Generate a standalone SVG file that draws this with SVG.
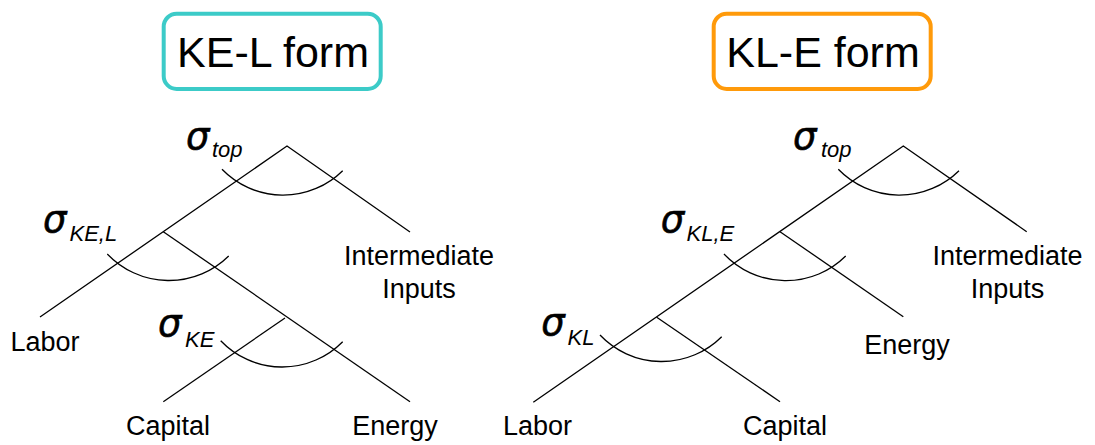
<svg xmlns="http://www.w3.org/2000/svg" width="1095" height="445" viewBox="0 0 1095 445">
  <style>
    .title { font-family: "Liberation Sans", Arial, sans-serif; font-size: 43px; fill: #000; text-anchor: middle; }
    .box { fill: #fff; stroke-width: 4; }
    .lbl { font-family: "Liberation Sans", Arial, sans-serif; font-size: 27px; fill: #000; text-anchor: middle; }
    .sig { font-family: "DejaVu Sans", "Liberation Sans", sans-serif; font-size: 37px; font-style: oblique; fill: #000; stroke: #000; stroke-width: 0.6; }
    .sub { font-family: "Liberation Sans", Arial, sans-serif; font-size: 22px; font-style: italic; fill: #000; }
    .ln { fill: none; stroke: #000; stroke-width: 1.3; }
  </style>
  <rect width="1095" height="445" fill="#fff"/>

  <!-- Titles -->
  <g id="title-kel">
    <rect class="box" x="163.7" y="13.7" width="217" height="75.3" rx="13" stroke="#3CCBC8"/>
    <text class="title" x="273" y="67">KE-L form</text>
  </g>
  <g id="title-kle">
    <rect class="box" x="713.7" y="13.7" width="217" height="75.3" rx="13" stroke="#FF9A0A"/>
    <text class="title" x="823" y="67">KL-E form</text>
  </g>

  <!-- Nesting tree branches and substitution arcs -->
  <g id="connectors">
    <!-- KE-L form -->
    <path class="ln" d="M40 317 L287 146 L410 232"/>
    <path class="ln" d="M163.3 231.7 L410 401.7"/>
    <path class="ln" d="M285 318 L163.3 401.7"/>
    <path class="ln" d="M222 169.3 A85 85 0 0 0 342.7 170.7"/>
    <path class="ln" d="M107.3 254 A85 85 0 0 0 228.7 256"/>
    <path class="ln" d="M220.7 340.7 A85 85 0 0 0 342.7 341.7"/>
    <!-- KL-E form -->
    <path class="ln" d="M533.3 402.3 L903.3 146 L1026.7 231.7"/>
    <path class="ln" d="M780 231.7 L903.3 316.7"/>
    <path class="ln" d="M656.7 317.3 L780 401.7"/>
    <path class="ln" d="M838.3 169.3 A85 85 0 0 0 959 170.7"/>
    <path class="ln" d="M724 254 A85 85 0 0 0 845.7 256"/>
    <path class="ln" d="M600 335 A85 85 0 0 0 721.7 336.7"/>
  </g>

  <!-- KE-L form nodes -->
  <g id="kel-top">
    <text class="sig" x="186" y="148.5">σ</text>
    <text class="sub" x="212" y="156.7">top</text>
  </g>
  <g id="kel-kel">
    <text class="sig" x="43" y="232.3">σ</text>
    <text class="sub" x="69.5" y="240.7">KE,L</text>
  </g>
  <g id="kel-ke">
    <text class="sig" x="158" y="336.3">σ</text>
    <text class="sub" x="185" y="346.7">KE</text>
  </g>
  <g id="kel-labor"><text class="lbl" x="45" y="351">Labor</text></g>
  <g id="kel-inter">
    <text class="lbl" x="419" y="265">Intermediate</text>
    <text class="lbl" x="419" y="298">Inputs</text>
  </g>
  <g id="kel-capital"><text class="lbl" x="168" y="435">Capital</text></g>
  <g id="kel-energy"><text class="lbl" x="395" y="435">Energy</text></g>

  <!-- KL-E form nodes -->
  <g id="kle-top">
    <text class="sig" x="793" y="148.8">σ</text>
    <text class="sub" x="821" y="156.7">top</text>
  </g>
  <g id="kle-kle">
    <text class="sig" x="660.7" y="232.3">σ</text>
    <text class="sub" x="686.5" y="240.7">KL,E</text>
  </g>
  <g id="kle-kl">
    <text class="sig" x="541.3" y="334.6">σ</text>
    <text class="sub" x="567.5" y="345">KL</text>
  </g>
  <g id="kle-inter">
    <text class="lbl" x="1007.5" y="265">Intermediate</text>
    <text class="lbl" x="1007.5" y="298">Inputs</text>
  </g>
  <g id="kle-energy"><text class="lbl" x="907" y="353.5">Energy</text></g>
  <g id="kle-labor"><text class="lbl" x="537.5" y="435">Labor</text></g>
  <g id="kle-capital"><text class="lbl" x="785" y="435">Capital</text></g>
</svg>
